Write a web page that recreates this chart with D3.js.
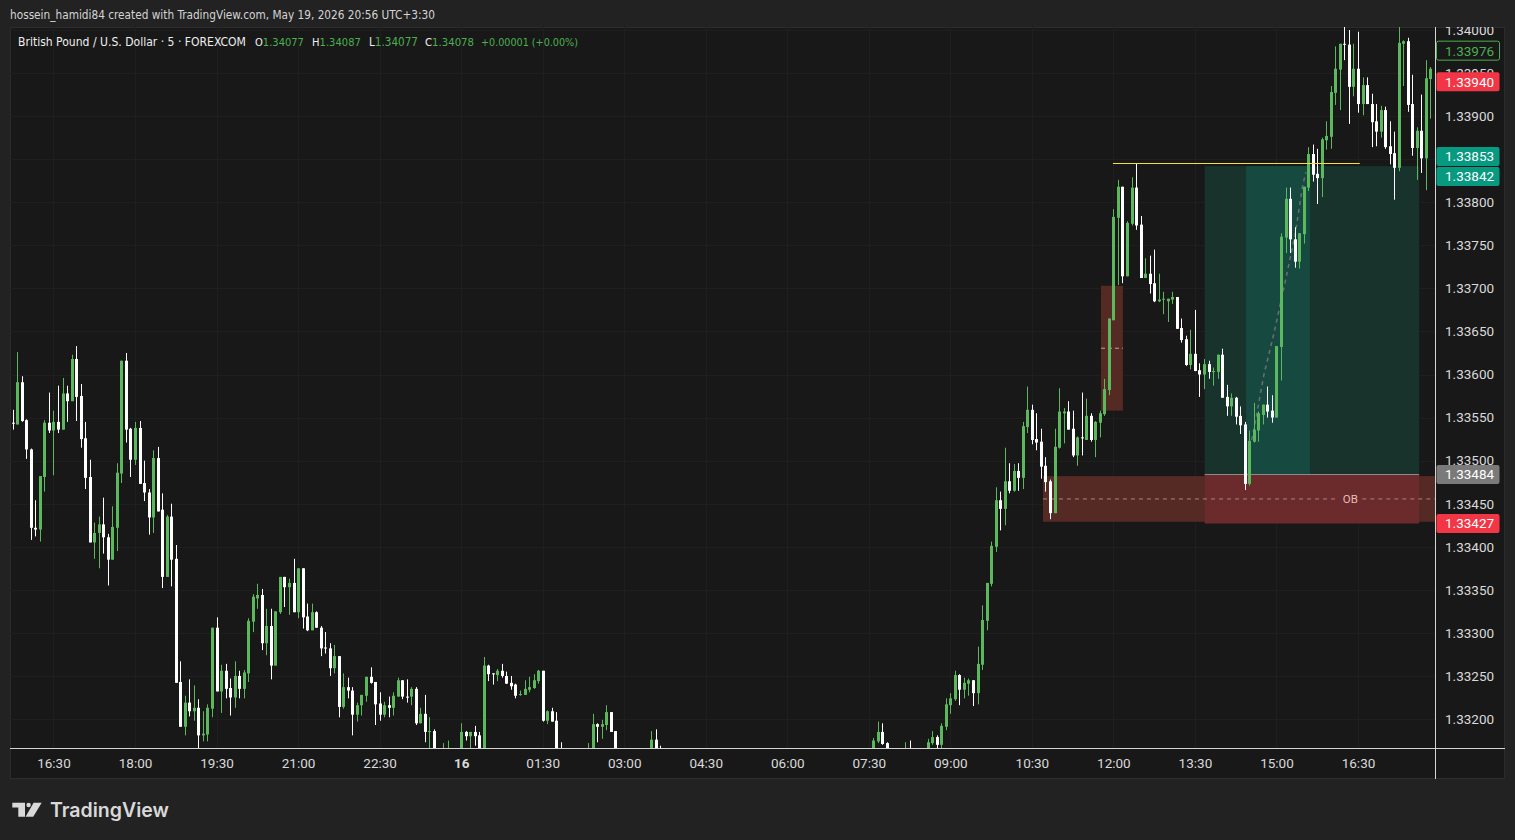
<!DOCTYPE html>
<html lang="en">
<head>
  <meta charset="UTF-8">
  <title>British Pound / U.S. Dollar · 5 · FOREXCOM</title>
  <script src="https://d3js.org/d3.v7.min.js"></script>
  <style>
    body { margin: 0; background: #222222; }
    svg { display: block; }
  </style>
</head>
<body>
<svg id="chart" width="1515" height="840"></svg>

<script>
  // prices are stored as 1e-5 steps above 1.33000 (e.g. 544 -> 1.33544)
  // null = candle sits entirely below the visible price range
  const opens = [
    544,542,591,547,513,422,420,481,544,535,
    545,536,578,569,618,575,526,481,405,416,
    426,411,385,422,485,616,537,501,538,474,
    463,434,503,443,365,435,386,243,191,219,
    209,213,181,182,212,306,232,256,236,225,
    250,235,253,313,340,344,288,308,262,324,
    365,353,358,324,375,319,303,324,306,283,
    282,259,273,214,237,233,205,216,227,249,
    243,218,205,216,213,226,245,226,226,235,
    195,206,185,186,null,160,158,null,null,160,
    185,180,185,181,160,262,253,251,256,250,
    242,240,228,228,234,236,244,256,198,209,
    198,160,null,null,null,null,null,150,160,194,
    191,193,208,186,null,null,null,null,null,null,
    null,160,176,158,null,null,null,null,null,null,
    null,null,null,null,null,null,null,null,null,null,
    null,null,null,null,null,null,null,null,null,null,
    null,null,null,null,null,null,null,null,null,null,
    null,null,null,null,null,null,null,null,null,null,
    160,174,185,172,null,null,null,158,165,null,
    null,null,160,172,179,170,191,216,223,251,
    234,241,245,230,263,314,357,400,454,444,
    476,465,488,480,539,559,525,522,494,476,
    439,515,555,557,537,506,527,524,552,524,
    544,554,582,663,782,818,714,775,817,774,
    712,717,706,685,687,685,687,690,654,641,
    611,624,605,600,612,603,603,623,574,563,
    573,552,542,473,522,535,553,565,558,550,
    632,759,804,757,731,763,817,856,833,828,
    872,876,927,954,984,983,934,955,914,936,
    914,894,882,907,865,857,840,984,987,914,
    863,883,851,943
  ];
  const highs = [
    559,626,598,548,514,454,482,547,579,558,
    587,596,587,623,633,589,545,501,428,435,
    457,415,447,497,616,625,538,545,546,500,
    467,512,516,462,437,450,402,267,227,246,
    239,223,209,217,306,318,263,264,247,267,
    256,257,317,345,357,351,328,328,325,365,
    365,363,386,375,375,334,334,325,308,301,
    288,286,273,253,248,237,219,228,249,260,
    243,231,220,226,231,248,245,246,237,237,
    213,228,202,188,null,172,175,null,null,195,
    186,185,192,185,272,263,253,258,264,255,
    250,241,233,245,249,252,257,256,210,213,
    208,173,null,null,null,null,null,172,206,195,
    199,216,208,186,null,null,null,null,null,null,
    null,186,188,169,null,null,null,null,null,null,
    null,null,null,null,null,null,null,null,null,null,
    null,null,null,null,null,null,null,null,null,null,
    null,null,null,null,null,null,null,null,null,null,
    null,null,null,null,null,null,null,null,null,null,
    178,197,195,173,null,null,null,173,175,null,
    null,null,177,186,181,195,224,230,256,252,
    248,247,245,284,332,358,406,469,464,515,
    497,496,497,545,586,565,555,537,504,478,
    537,584,561,569,558,528,579,572,555,546,
    558,595,665,792,826,818,778,829,845,784,
    735,738,745,717,696,688,696,690,665,645,
    652,675,613,618,616,608,623,630,588,578,
    574,563,545,535,567,557,565,586,576,633,
    764,817,817,771,764,818,864,867,862,875,
    894,935,981,984,1004,1000,984,998,945,945,
    926,914,912,911,894,882,1004,988,991,948,
    887,925,965,957
  ];
  const lows = [
    536,542,545,502,408,412,406,464,532,483,
    532,536,545,569,546,515,467,405,386,375,
    392,355,385,395,474,521,481,495,473,453,
    414,416,441,352,365,354,242,191,181,203,
    198,162,174,174,202,232,207,224,204,213,
    224,224,243,301,328,280,274,246,262,322,
    330,321,324,317,305,302,303,306,273,276,
    250,253,202,212,224,181,197,204,220,241,
    193,198,202,202,204,226,223,219,216,193,
    195,173,158,155,null,155,152,null,null,158,
    175,166,169,155,155,244,240,244,248,241,
    234,224,227,228,231,235,241,197,194,197,
    150,148,null,null,null,null,null,145,155,173,
    177,187,185,150,null,null,null,null,null,null,
    null,155,155,145,null,null,null,null,null,null,
    null,null,null,null,null,null,null,null,null,null,
    null,null,null,null,null,null,null,null,null,null,
    null,null,null,null,null,null,null,null,null,null,
    null,null,null,null,null,null,null,null,null,null,
    155,172,170,155,null,null,null,152,152,null,
    null,null,155,170,163,164,187,206,221,216,
    224,227,215,217,257,303,354,394,419,425,
    462,464,465,467,532,519,512,479,464,432,
    439,514,520,536,504,494,506,524,522,504,
    527,552,576,663,704,706,714,773,768,712,
    712,694,684,684,670,661,682,653,637,610,
    606,604,574,583,595,587,595,573,552,552,
    542,531,466,471,521,522,542,550,544,550,
    593,741,741,724,723,752,813,824,798,806,
    861,862,913,907,965,891,923,904,901,914,
    864,865,875,862,844,803,836,935,905,854,
    826,834,814,897
  ];
  const closes = [
    543,591,546,513,422,420,482,544,535,545,
    536,578,569,618,574,525,480,405,416,426,
    411,385,423,486,616,536,501,538,473,463,
    434,503,441,365,435,385,242,191,219,209,
    213,181,183,213,306,232,256,235,225,250,
    235,254,314,342,344,288,308,262,325,365,
    353,358,324,375,318,303,324,306,282,282,
    259,273,214,237,233,205,216,228,249,242,
    217,205,216,213,227,245,226,225,235,195,
    206,185,186,160,null,165,164,null,null,185,
    180,185,180,160,262,252,252,256,250,241,
    238,227,229,235,237,245,256,198,209,197,
    158,152,null,null,null,null,null,160,194,191,
    194,208,185,158,null,null,null,null,null,null,
    null,176,160,150,null,null,null,null,null,null,
    null,null,null,null,null,null,null,null,null,null,
    null,null,null,null,null,null,null,null,null,null,
    null,null,null,null,null,null,null,null,null,null,
    null,null,null,null,null,null,null,null,null,null,
    175,185,171,160,null,null,null,165,158,null,
    null,null,173,179,170,192,217,224,251,234,
    242,245,230,264,315,358,401,454,444,476,
    465,488,480,540,559,524,521,493,475,439,
    516,557,557,536,506,527,526,552,524,545,
    555,583,665,783,818,714,776,817,773,712,
    717,705,685,687,688,688,690,653,640,611,
    624,604,600,612,603,604,623,573,563,573,
    551,541,473,523,536,555,565,557,550,633,
    760,804,757,731,764,818,856,832,828,873,
    877,928,955,984,983,934,955,914,936,914,
    893,882,907,864,856,840,985,987,913,863,
    883,851,944,955
  ];

  // axis ticks (candle index 0 = 15:45, 5 minute bars)
  const timeTickIdx = [9, 27, 45, 63, 81, 99, 117, 135, 153, 171, 189, 207, 225, 243, 261, 279, 297];
  const timeTickLabels = ["16:30", "18:00", "19:30", "21:00", "22:30", "16", "01:30", "03:00", "04:30",
                          "06:00", "07:30", "09:00", "10:30", "12:00", "13:30", "15:00", "16:30"];
  const priceTicks = [1.3320, 1.3325, 1.3330, 1.3335, 1.3340, 1.3345, 1.3350, 1.3355, 1.3360,
                      1.3365, 1.3370, 1.3375, 1.3380, 1.3385, 1.3390, 1.3395, 1.3400];

  // price tags on the right scale
  const tagPrices = [1.33976, 1.33940, 1.33853, 1.33842, 1.33484, 1.33427];
  const tagFills  = ["#181818", "#f23645", "#089981", "#089981", "#7a7a7a", "#f23645"];
  const tagInk    = ["#4caf50", "#ffffff", "#ffffff", "#ffffff", "#ffffff", "#ffffff"];

  // drawings (x in candle index, y in price)
  const obZone = {from: 227.45, top: 1.33482, bottom: 1.33429, labelAt: 295.3};
  const fvgBox = {from: 240.25, to: 245.1, top: 1.33703, bottom: 1.33558};
  const highLine = {from: 242.9, to: 297.4, price: 1.33845};
  const position = {from: 263.15, to: 310.5, entry: 1.33484, stop: 1.33427, target: 1.33842};
  const positionBand = [272.3, 286.4];
  const pathIdx = [273.0, 273.8, 276.2, 278.5, 281.1, 283.1, 284.8, 285.5];
  const pathPrice = [1.33515, 1.33530, 1.33599, 1.33649, 1.33712, 1.33762, 1.33820, 1.33835];

  const legendKeys = ["O", "H", "L", "C"];
  const legendVals = ["1.34077", "1.34087", "1.34077", "1.34078"];

  const upColor = "#5cb85c", downColor = "#ffffff";
  const plotLeft = 10, plotTop = 27, plotRight = 1435, plotBottom = 748;

  const svg = d3.select("#chart");
  const uiFont = "Roboto, 'Liberation Sans', sans-serif";
  const narrowFont = "'Liberation Sans Narrow', 'DejaVu Sans Condensed', Roboto, sans-serif";

  // shrink/grow a text's font so its natural width matches the reference
  function fitWidth(sel, width) {
    const size = +sel.attr("font-size") || 12;
    const w = sel.node().getComputedTextLength();
    if (w > 0) sel.attr("font-size", (size * width / w).toFixed(2));
    return sel;
  }

  svg.append("rect").attr("width", 1515).attr("height", 840).attr("fill", "#222222");
  svg.append("rect")
    .attr("x", 10.5).attr("y", 27.5).attr("width", 1494).attr("height", 751)
    .attr("fill", "#181818").attr("stroke", "#2c2c2c");

  const x = d3.scaleLinear().domain([-0.6, 314]).range([plotLeft, plotRight]);
  const y = d3.scaleLinear().domain([1.332, 1.340]).range([719, 30]);
  const px = v => 1.33 + v / 1e5;

  const candles = d3.range(opens.length)
    .filter(i => opens[i] !== null)
    .map(i => ({i, o: px(opens[i]), h: px(highs[i]), l: px(lows[i]), c: px(closes[i])}));

  const defs = svg.append("defs");
  defs.append("clipPath").attr("id", "plotClip").append("rect")
    .attr("x", plotLeft).attr("y", plotTop).attr("width", plotRight - plotLeft).attr("height", plotBottom - plotTop);
  defs.append("clipPath").attr("id", "scaleClip").append("rect")
    .attr("x", plotRight).attr("y", plotTop).attr("width", 70).attr("height", plotBottom - plotTop);

  // grid
  const grid = svg.append("g").attr("stroke", "#1f1f1f");
  grid.selectAll("line.v").data(timeTickIdx).join("line").attr("class", "v")
    .attr("x1", d => Math.round(x(d)) + 0.5).attr("x2", d => Math.round(x(d)) + 0.5)
    .attr("y1", plotTop).attr("y2", plotBottom);
  grid.selectAll("line.h").data(priceTicks).join("line").attr("class", "h")
    .attr("x1", plotLeft).attr("x2", plotRight)
    .attr("y1", d => Math.round(y(d)) + 0.5).attr("y2", d => Math.round(y(d)) + 0.5);

  const plot = svg.append("g").attr("clip-path", "url(#plotClip)");

  // order block zone
  plot.append("rect")
    .attr("x", x(obZone.from)).attr("y", y(obZone.top))
    .attr("width", plotRight - x(obZone.from)).attr("height", y(obZone.bottom) - y(obZone.top))
    .attr("fill", "#552a24");

  // small box near 12:00
  plot.append("rect")
    .attr("x", x(fvgBox.from)).attr("y", y(fvgBox.top))
    .attr("width", x(fvgBox.to) - x(fvgBox.from)).attr("height", y(fvgBox.bottom) - y(fvgBox.top))
    .attr("fill", "#552a22");
  plot.append("line")
    .attr("x1", x(fvgBox.from)).attr("x2", x(fvgBox.to))
    .attr("y1", y((fvgBox.top + fvgBox.bottom) / 2)).attr("y2", y((fvgBox.top + fvgBox.bottom) / 2))
    .attr("stroke", "#b9a8a2").attr("stroke-dasharray", "4,3");

  // long position tool
  plot.append("rect")
    .attr("x", x(position.from)).attr("y", y(position.target))
    .attr("width", x(position.to) - x(position.from)).attr("height", y(position.entry) - y(position.target))
    .attr("fill", "#18322c");
  plot.append("rect")
    .attr("x", x(positionBand[0])).attr("y", y(position.target))
    .attr("width", x(positionBand[1]) - x(positionBand[0])).attr("height", y(position.entry) - y(position.target))
    .attr("fill", "#164a40");
  plot.append("rect")
    .attr("x", x(position.from)).attr("y", y(position.entry))
    .attr("width", x(position.to) - x(position.from)).attr("height", y(position.stop) - y(position.entry))
    .attr("fill", "#6b2a2b");
  plot.append("line")
    .attr("x1", x(position.from)).attr("x2", x(position.to))
    .attr("y1", Math.round(y(position.entry)) + 0.5).attr("y2", Math.round(y(position.entry)) + 0.5)
    .attr("stroke", "#8a8a8a");

  // order block midline with "OB" label
  const obMid = y((obZone.top + obZone.bottom) / 2);
  const obLabelX = x(obZone.labelAt);
  plot.append("line")
    .attr("x1", x(obZone.from)).attr("x2", obLabelX - 12)
    .attr("y1", obMid).attr("y2", obMid)
    .attr("stroke", "#c7a9a9").attr("stroke-opacity", 0.7).attr("stroke-dasharray", "4,4");
  plot.append("line")
    .attr("x1", obLabelX + 12).attr("x2", plotRight)
    .attr("y1", obMid).attr("y2", obMid)
    .attr("stroke", "#c7a9a9").attr("stroke-opacity", 0.7).attr("stroke-dasharray", "4,4");
  plot.append("text")
    .attr("x", obLabelX).attr("y", obMid).attr("dy", "0.35em")
    .attr("text-anchor", "middle").attr("font-family", uiFont).attr("font-size", 11.5)
    .attr("fill", "#e6bcbc").text("OB");

  // projected path
  plot.append("path")
    .datum(d3.zip(pathIdx, pathPrice))
    .attr("fill", "none").attr("stroke", "#6e6e6e").attr("stroke-width", 1.5)
    .attr("stroke-dasharray", "4,4")
    .attr("d", d3.line().x(d => x(d[0])).y(d => y(d[1])));

  // candles
  const cg = plot.append("g");
  cg.selectAll("line.wick").data(candles).join("line").attr("class", "wick")
    .attr("x1", d => Math.round(x(d.i)) + 0.5).attr("x2", d => Math.round(x(d.i)) + 0.5)
    .attr("y1", d => y(d.h)).attr("y2", d => y(d.l))
    .attr("stroke", d => d.c >= d.o ? upColor : downColor).attr("stroke-width", 1);
  cg.selectAll("rect.body").data(candles).join("rect").attr("class", "body")
    .attr("x", d => Math.round(x(d.i)) - 1)
    .attr("width", 3)
    .attr("y", d => y(Math.max(d.o, d.c)))
    .attr("height", d => Math.max(1, Math.abs(y(d.o) - y(d.c))))
    .attr("fill", d => d.c >= d.o ? upColor : downColor);

  // swing high line
  plot.append("line")
    .attr("x1", x(highLine.from)).attr("x2", x(highLine.to))
    .attr("y1", Math.round(y(highLine.price)) + 0.5).attr("y2", Math.round(y(highLine.price)) + 0.5)
    .attr("stroke", "#f0e040");

  // axis frame lines
  svg.append("line").attr("x1", plotLeft).attr("x2", 1505).attr("y1", plotBottom + 0.5).attr("y2", plotBottom + 0.5)
    .attr("stroke", "#d4d4d4");
  svg.append("line").attr("x1", plotRight + 0.5).attr("x2", plotRight + 0.5).attr("y1", plotTop).attr("y2", 779)
    .attr("stroke", "#d4d4d4");

  // price scale
  const scaleG = svg.append("g").attr("clip-path", "url(#scaleClip)");
  const yAxis = scaleG.append("g")
    .attr("transform", `translate(${plotRight},0)`)
    .call(d3.axisRight(y).tickValues(priceTicks).tickFormat(d3.format(".5f")).tickSize(0).tickPadding(10));
  yAxis.select(".domain").remove();
  yAxis.attr("font-family", uiFont).attr("font-size", 13.5);
  yAxis.selectAll("text").attr("fill", "#dadada");

  // price tags, pushed apart when they collide
  let prevCenter = -Infinity;
  const tags = tagPrices.map((p, k) => {
    let c = y(p);
    if (c < prevCenter + 20) c = prevCenter + 20;
    prevCenter = c;
    return {p, k, c};
  });
  const tagG = scaleG.append("g");
  tagG.selectAll("rect").data(tags).join("rect")
    .attr("x", plotRight + 1.5).attr("y", d => d.c - 9.5)
    .attr("width", 63).attr("height", 19).attr("rx", 2)
    .attr("fill", d => tagFills[d.k])
    .attr("stroke", d => d.k === 0 ? "#4caf50" : "none");
  tagG.selectAll("text").data(tags).join("text")
    .attr("x", plotRight + 10).attr("y", d => d.c).attr("dy", "0.36em")
    .attr("font-family", uiFont).attr("font-size", 13.5)
    .attr("fill", d => tagInk[d.k])
    .text(d => d3.format(".5f")(d.p));

  // time scale
  const xAxis = svg.append("g")
    .attr("transform", `translate(0,${plotBottom})`)
    .call(d3.axisBottom(x).tickValues(timeTickIdx).tickFormat((d, i) => timeTickLabels[i]).tickSize(0).tickPadding(10));
  xAxis.select(".domain").remove();
  xAxis.attr("font-family", uiFont).attr("font-size", 13.5);
  xAxis.selectAll("text").attr("fill", "#dadada")
    .attr("font-weight", d => d === 99 ? "bold" : "normal");

  // header and legend
  fitWidth(svg.append("text")
    .attr("x", 10).attr("y", 19)
    .attr("font-family", narrowFont).attr("font-size", 12.5).attr("fill", "#d4d4d4")
    .text("hossein_hamidi84 created with TradingView.com, May 19, 2026 20:56 UTC+3:30"), 425);

  fitWidth(svg.append("text").attr("x", 18).attr("y", 46)
    .attr("font-family", narrowFont).attr("font-size", 13).attr("fill", "#eeeeee")
    .text("British Pound / U.S. Dollar · 5 · FOREXCOM"), 228);
  const legendX = [255, 312, 369, 425];
  legendKeys.forEach((k, j) => {
    const t = svg.append("text").attr("x", legendX[j]).attr("y", 46)
      .attr("font-family", narrowFont).attr("font-size", 13);
    t.append("tspan").attr("fill", "#eeeeee").text(k);
    t.append("tspan").attr("fill", "#4caf50").text(legendVals[j]);
    fitWidth(t, 49);
  });
  fitWidth(svg.append("text").attr("x", 481).attr("y", 46)
    .attr("font-family", narrowFont).attr("font-size", 13).attr("fill", "#4caf50")
    .text("+0.00001 (+0.00%)"), 97);

  // TradingView logo
  const logo = svg.append("g").attr("fill", "#d9d9d9");
  logo.append("path").attr("d", "M12.3,802.7H25V816.7H18.3V807.4H12.3Z");
  logo.append("circle").attr("cx", 28.6).attr("cy", 805).attr("r", 2.2);
  logo.append("path").attr("d", "M33.6,802.7H41.7L33.2,816.7H25.6Z");
  fitWidth(logo.append("text")
    .attr("x", 50).attr("y", 817)
    .attr("font-family", "Inter, Roboto, sans-serif").attr("font-size", 20.5).attr("font-weight", 600)
    .text("TradingView"), 119);
</script>
</body>
</html>
